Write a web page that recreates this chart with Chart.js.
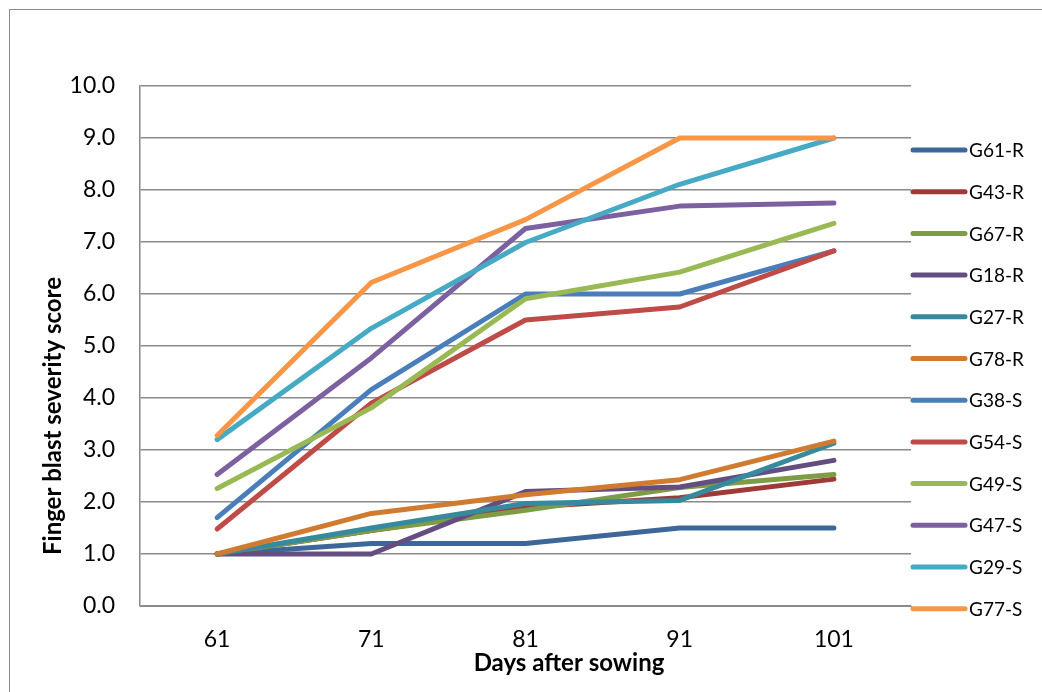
<!DOCTYPE html>
<html>
<head>
<meta charset="utf-8">
<script src="https://cdn.jsdelivr.net/npm/chart.js@4"></script>
<style>
  html, body { margin: 0; padding: 0; background: #ffffff; }
  #wrap { position: relative; width: 1042px; height: 692px; }
</style>
</head>
<body>
<div id="wrap"><canvas id="c" width="1042" height="692"></canvas></div>
<script>
const days = ["61", "71", "81", "91", "101"];
const seriesNames = ["G61-R", "G43-R", "G67-R", "G18-R", "G27-R", "G78-R",
                     "G38-S", "G54-S", "G49-S", "G47-S", "G29-S", "G77-S"];
const G61R = [1.0, 1.2, 1.2, 1.5, 1.5];
const G43R = [1.0, 1.45, 1.9, 2.08, 2.44];
const G67R = [1.0, 1.45, 1.84, 2.28, 2.53];
const G18R = [1.0, 1.0, 2.2, 2.29, 2.8];
const G27R = [1.0, 1.5, 1.97, 2.03, 3.13];
const G78R = [1.0, 1.78, 2.14, 2.43, 3.17];
const G38S = [1.7, 4.16, 6.0, 6.0, 6.83];
const G54S = [1.48, 3.9, 5.5, 5.75, 6.83];
const G49S = [2.26, 3.81, 5.91, 6.42, 7.36];
const G47S = [2.53, 4.77, 7.26, 7.69, 7.75];
const G29S = [3.2, 5.34, 6.99, 8.11, 9.0];
const G77S = [3.28, 6.22, 7.43, 9.0, 9.0];
const seriesValues = [G61R, G43R, G67R, G18R, G27R, G78R, G38S, G54S, G49S, G47S, G29S, G77S];
const seriesColors = ["#3D6799", "#9E3B39", "#7E9B45", "#644E80", "#378A9E", "#D17B30",
                      "#4A7EBB", "#BE4B48", "#98B954", "#7D60A0", "#46AAC5", "#F79646"];
const xTitle = "Days after sowing";
const yTitle = "Finger blast severity score";

const FONT = "Lato, 'Open Sans', sans-serif";

const frame = {
  id: "frame",
  beforeDraw(chart) {
    const ctx = chart.ctx;
    ctx.save();
    ctx.fillStyle = "#ffffff";
    ctx.fillRect(0, 0, chart.width, chart.height);
    ctx.strokeStyle = "#8a8a8a";
    ctx.lineWidth = 1;
    ctx.strokeRect(9.5, 9.5, 1200, 900);
    ctx.restore();
  },
  afterDraw(chart) {
    const ctx = chart.ctx;
    const area = chart.chartArea;
    ctx.save();
    // axis titles
    ctx.fillStyle = "#000000";
    ctx.font = "bold 24px " + FONT;
    ctx.textAlign = "center";
    ctx.textBaseline = "middle";
    ctx.fillText(xTitle, 569, 663);
    ctx.translate(53, 416);
    ctx.rotate(-Math.PI / 2);
    ctx.fillText(yTitle, 0, 0);
    ctx.restore();

    // legend
    ctx.save();
    ctx.font = "19px " + FONT;
    ctx.textAlign = "left";
    ctx.textBaseline = "middle";
    chart.data.datasets.forEach((ds, i) => {
      const y = 150 + i * 41.7;
      ctx.strokeStyle = ds.borderColor;
      ctx.lineWidth = 5;
      ctx.lineCap = "round";
      ctx.beginPath();
      ctx.moveTo(area.right + 2, y);
      ctx.lineTo(area.right + 54, y);
      ctx.stroke();
      ctx.fillStyle = "#000000";
      ctx.fillText(ds.label, area.right + 58, y + 1);
    });
    ctx.restore();
  }
};

new Chart(document.getElementById("c"), {
  type: "line",
  data: {
    labels: days,
    datasets: seriesNames.map((name, i) => ({
      label: name,
      data: seriesValues[i],
      borderColor: seriesColors[i],
      backgroundColor: seriesColors[i],
      borderWidth: 5,
      pointRadius: 0,
      tension: 0,
      fill: false,
      borderCapStyle: "round",
      borderJoinStyle: "round",
      order: seriesNames.length - i
    }))
  },
  options: {
    responsive: false,
    animation: false,
    layout: { padding: { top: 86, right: 131, bottom: 0, left: 0 } },
    plugins: {
      legend: { display: false },
      tooltip: { enabled: false },
      title: { display: false }
    },
    scales: {
      x: {
        offset: true,
        grid: { display: false, drawTicks: false },
        border: { display: true, color: "#8a8a8a", width: 1 },
        ticks: { color: "#000000", font: { family: FONT, size: 23 }, padding: 20, maxRotation: 0 },
        afterFit(scale) { scale.height = 86; }
      },
      y: {
        min: 0,
        max: 10,
        ticks: {
          stepSize: 1,
          color: "#000000",
          font: { family: FONT, size: 23 },
          padding: 25,
          callback: (v) => Number(v).toFixed(1)
        },
        grid: { color: "#8a8a8a", lineWidth: 1.5, drawTicks: false },
        border: { display: true, color: "#8a8a8a", width: 1.5 },
        afterFit(scale) { scale.width = 140; }
      }
    }
  },
  plugins: [frame]
});
</script>
</body>
</html>
